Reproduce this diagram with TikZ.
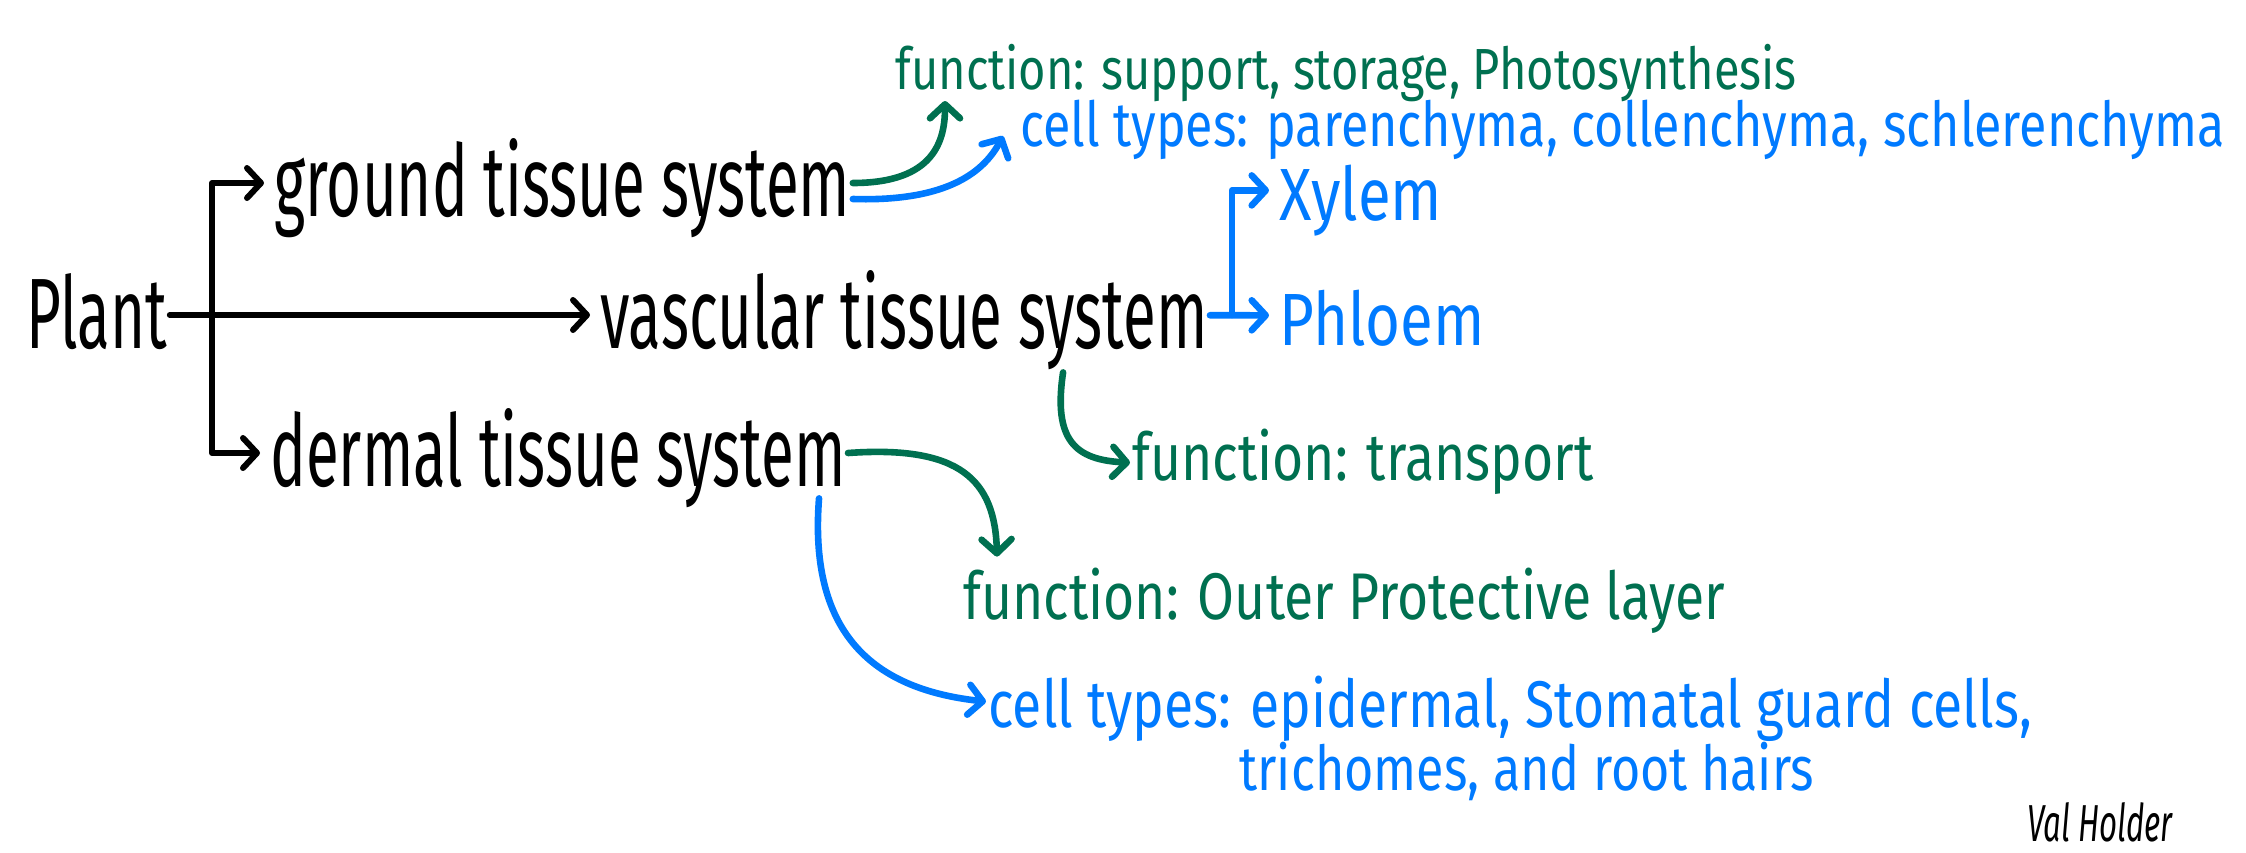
\documentclass[tikz,border=0pt]{standalone}
\usepackage{fontspec}
\setmainfont{Fira Sans}[FakeStretch=0.6]
\newfontfamily\notefont{Fira Sans}[FakeStretch=0.81]
\usetikzlibrary{arrows.meta,calc}
\definecolor{leafgreen}{RGB}{0,112,80}
\definecolor{cellblue}{RGB}{0,122,255}

\begin{document}
\begin{tikzpicture}[x=0.5pt, y=-0.5pt,
    tissue/.style={font=\fontsize{50}{54}\selectfont, anchor=west, inner sep=1pt, text height=43pt, text depth=10pt},
    note/.style={font=\notefont\fontsize{33}{36}\selectfont, anchor=base west, inner sep=1pt, text height=24pt, text depth=6.6pt},
    part/.style={font=\notefont\fontsize{37}{40}\selectfont, anchor=base west, inner sep=1pt, text=cellblue, text height=37pt, text depth=7.4pt},
    link/.style={line width=3pt, line cap=round, line join=round, shorten >=4pt, -{Straight Barb[length=7pt, width=15pt, round]}},
    greenlink/.style={link, draw=leafgreen, line width=3.3pt, shorten >=0pt},
    bluelink/.style={link, draw=cellblue, line width=3.3pt}]

    \useasboundingbox (0,0) rectangle (2246,852);

    % Tissue systems
    \node[tissue] (plant) at (24,315) {Plant};
    \node[tissue] (ground) at (272,183) {ground tissue system};
    \node[tissue] (vascular) at (598,315) {vascular tissue system};
    \node[tissue] (dermal) at (268,453) {dermal tissue system};
    \coordinate (split) at (212,315);
    \coordinate (vsplit) at (1232,315);

    % Functions and cell types
    \node[note, text=leafgreen, font=\notefont\fontsize{29}{32}\selectfont] (groundfn) at (893,89) {function: support, storage, Photosynthesis};
    \node[note, text=cellblue, font=\notefont\fontsize{31}{34}\selectfont] (groundcells) at (1018,146) {cell types: parenchyma, collenchyma, schlerenchyma};
    \node[part] (xylem) at (1277,220) {Xylem};
    \node[part] (phloem) at (1277,345) {Phloem};
    \node[note, text=leafgreen] (vascularfn) at (1130,480) {function: transport};
    \node[note, text=leafgreen] (dermalfn) at (961,619) {function: Outer Protective layer};
    \node[note, text=cellblue] (dermalcells) at (986,727) {cell types: epidermal, Stomatal guard cells,};
    \node[note, text=cellblue, font=\notefont\fontsize{31}{34}\selectfont] (dermalcells2) at (1237,790) {trichomes, and root hairs};
    \node[font=\itshape\fontsize{26}{28}\selectfont] (sign) at (2100,822) {Val Holder};

    % Arrows
    \draw[link] (plant) -- (vascular);
    \draw[link] (split) |- (ground);
    \draw[link] (split) |- (dermal);
    \draw[bluelink] (vascular) -- (phloem);
    \draw[bluelink] (vsplit) |- (xylem);
    \draw[greenlink] (ground.east) .. controls (935,183) and (945,140) .. ([xshift=26pt,yshift=-6pt]groundfn.base west);
    \draw[bluelink, shorten >=0pt] ([yshift=-8pt]ground.east) .. controls (950,202) and (985,170) .. ([xshift=-7.5pt,yshift=5pt]groundcells.base west);
    \draw[greenlink] ($(vascular.south west)!0.76!(vascular.south east)+(0,2)$) .. controls (1053,440) and (1075,460) .. (vascularfn.west);
    \draw[greenlink] (dermal.east) .. controls (960,445) and (995,480) .. ([xshift=18pt,yshift=6pt]dermalfn.north west);
    \draw[bluelink, shorten >=0pt] ($(dermal.south west)!0.95!(dermal.south east)+(0,-10)$) .. controls (808,640) and (880,690) .. ([yshift=4pt]dermalcells.west);
\end{tikzpicture}
\end{document}
